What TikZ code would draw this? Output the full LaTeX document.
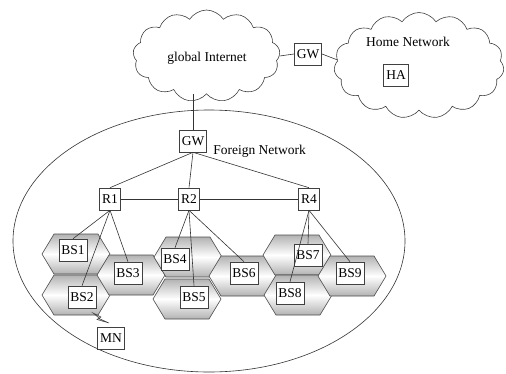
\documentclass[tikz,border=0pt]{standalone}
\usepackage{fontspec}
\setmainfont{Liberation Serif}
\usetikzlibrary{shapes.symbols}
\tikzset{box/.style={draw=black!75, fill=white, line width=0.6pt, inner sep=2.5pt,
    minimum height=22pt, font=\fontsize{13.5}{16}\selectfont},
  cell/.style={draw=black!70, line width=0.6pt, top color=gray!60, bottom color=gray!60,
    middle color=white},
  netcloud/.style={cloud, draw=black!75, line width=0.6pt, cloud puff arc=115},
  lbl/.style={font=\fontsize{13.5}{16}\selectfont, inner sep=0pt}}

\begin{document}
\begin{tikzpicture}[x=1pt, y=-1pt, line width=0.6pt, draw=black!75]
      \useasboundingbox (0,0) rectangle (506,373);

      % clouds on top
      \node [netcloud, cloud puffs=13, minimum width=147pt, minimum height=92pt] (glob) at (206.5,56) {};
      \node [netcloud, cloud puffs=15, minimum width=170pt, minimum height=106pt] (home) at (419,65.5) {};
      \node [lbl] (globtxt) at (207,58) {global Internet};
      \node [lbl] (hometxt) at (408,42) {Home Network};
      \node [box] (ha) at (396,75) {HA};
      \node [box] (gw1) at (308,54) {GW};
      \draw [black!80] (glob.east) -- (gw1.west);
      \draw [black!80] (gw1.east) -- (home.176);

      % foreign network
      \draw [black!80] (209,241) ellipse [x radius=196, y radius=131];
      \node [box] (gw2) at (193,141) {GW};
      \node [lbl, anchor=west] (fortxt) at (213,151) {Foreign Network};
      \draw [black!80] (gw2.north) -- (gw2.north |- glob.south);

      \node [box] (r1) at (110,199) {R1};
      \node [box] (r2) at (189,199) {R2};
      \node [box] (r4) at (309,199) {R4};
      \draw [black!80] (r1.east) -- (r2.west);
      \draw [black!80] (r2.east) -- (r4.west);
      \foreach \r in {r1,r2,r4}
        \draw [black!80] (gw2.south) -- (\r.north);

      % cells
      \foreach \n/\x/\y in {1/76/254, 2/76/295, 3/131/275, 4/188/257, 5/187/299,
                            6/243/276, 7/297/255, 8/298/295, 9/352/276}
        \draw [cell] ({\x-34},\y) -- ({\x-22},{\y-20}) -- ({\x+22},{\y-20}) -- ({\x+34},\y)
          -- ({\x+22},{\y+20}) -- ({\x-22},{\y+20}) -- cycle;

      \node [box] (bs1) at (73,250) {BS1};
      \node [box] (bs2) at (82,297) {BS2};
      \node [box] (bs3) at (128,273) {BS3};
      \node [box] (bs4) at (175,259) {BS4};
      \node [box] (bs5) at (194,297) {BS5};
      \node [box] (bs6) at (244,273) {BS6};
      \node [box] (bs7) at (308,255) {BS7};
      \node [box] (bs8) at (290,293) {BS8};
      \node [box] (bs9) at (350,273) {BS9};

      \foreach \r/\b in {r1/bs1, r1/bs2, r1/bs3, r2/bs4, r2/bs5, r2/bs6, r4/bs7, r4/bs8, r4/bs9}
        \draw [black!80] (\r.south) -- (\b.north);

      % mobile node
      \node [box] (mn) at (111,338) {MN};
      \draw [black!75, fill=gray!40, line width=0.5pt] (93,313) -- (101,317) -- (99,318.5) -- (109,323)
        -- (97,319.5) -- (99,318) -- cycle;
    \end{tikzpicture}
\end{document}
